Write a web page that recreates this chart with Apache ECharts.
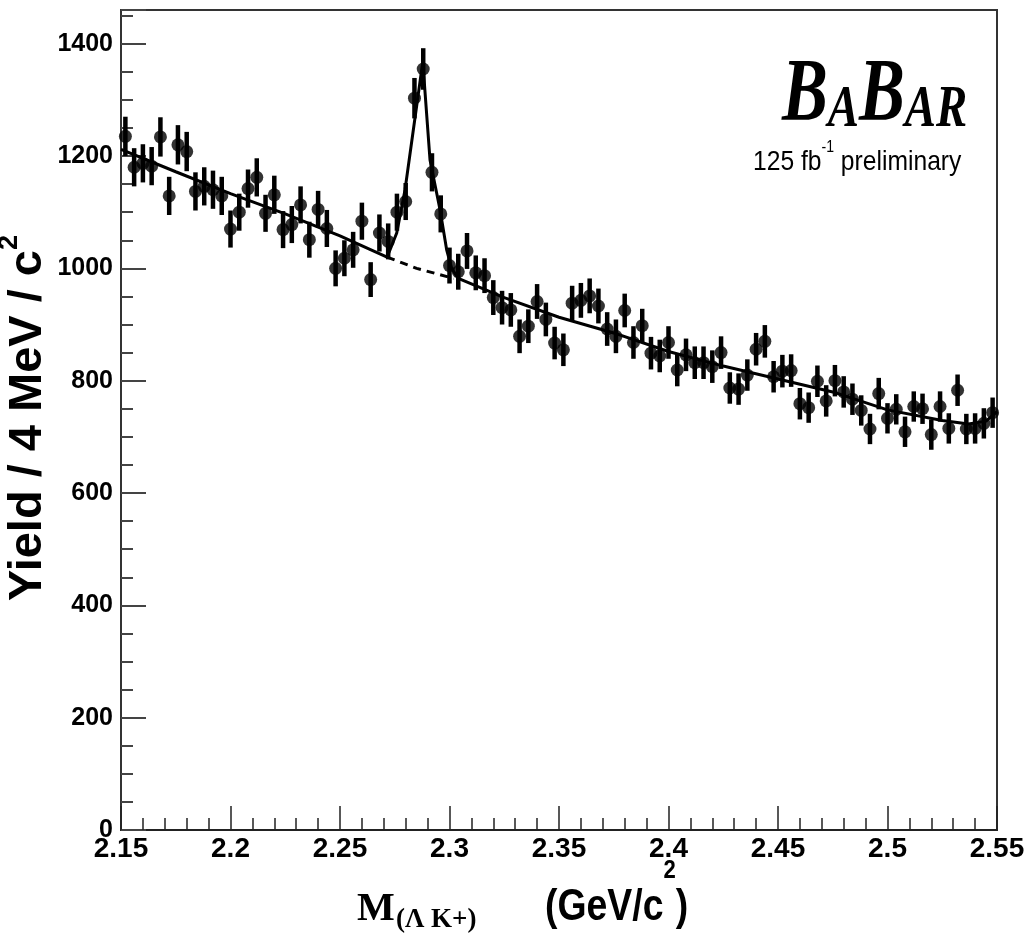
<!DOCTYPE html>
<html>
<head>
<meta charset="utf-8">
<script src="https://cdn.jsdelivr.net/npm/echarts@6/dist/echarts.min.js"></script>
<style>
html,body{margin:0;padding:0;background:#fff;}
#chart{width:1024px;height:935px;}
</style>
</head>
<body>
<div id="chart"></div>
<script>
// Bin centres (GeV/c^2), 4 MeV bins
const mass = [2.152,2.156,2.160,2.164,2.168,2.172,2.176,2.180,2.184,2.188,
2.192,2.196,2.200,2.204,2.208,2.212,2.216,2.220,2.224,2.228,
2.232,2.236,2.240,2.244,2.248,2.252,2.256,2.260,2.264,2.268,
2.272,2.276,2.280,2.284,2.288,2.292,2.296,2.300,2.304,2.308,
2.312,2.316,2.320,2.324,2.328,2.332,2.336,2.340,2.344,2.348,
2.352,2.356,2.360,2.364,2.368,2.372,2.376,2.380,2.384,2.388,
2.392,2.396,2.400,2.404,2.408,2.412,2.416,2.420,2.424,2.428,
2.432,2.436,2.440,2.444,2.448,2.452,2.456,2.460,2.464,2.468,
2.472,2.476,2.480,2.484,2.488,2.492,2.496,2.500,2.504,2.508,
2.512,2.516,2.520,2.524,2.528,2.532,2.536,2.540,2.544,2.548];
// Yield per bin
const yieldVals = [1235,1180,1187,1182,1234,1129,1220,1208,1137,1146,
1140,1129,1070,1100,1142,1162,1098,1131,1069,1078,
1113,1051,1105,1071,1000,1018,1033,1084,980,1063,
1048,1100,1119,1303,1355,1171,1097,1005,994,1031,
992,987,948,930,926,879,897,941,909,867,
855,938,943,951,933,892,879,925,868,898,
849,844,868,819,846,832,832,825,850,787,
785,810,856,870,807,817,818,759,752,799,
764,800,780,767,747,714,777,733,749,709,
754,750,704,754,715,783,714,715,724,743];
// Error bar half-lengths
const errVals = [35,34,34,34,35,34,35,35,34,34,
34,34,33,33,34,34,33,34,33,33,
33,32,33,33,32,32,32,33,31,33,
32,33,33,36,37,34,33,32,32,32,
31,31,31,30,30,30,30,31,30,29,
29,31,31,31,31,30,30,30,29,30,
29,29,29,29,29,29,29,29,29,28,
28,28,29,29,28,29,29,28,27,28,
28,28,28,28,27,27,28,27,27,27,
27,27,27,27,27,28,27,27,27,27];
// Fit (signal + background), solid
const fitMass  = [2.150,2.175,2.200,2.225,2.250,2.2715,2.2759,2.2797,2.2878,2.2911,2.2957,2.2987,2.301,2.304,2.325,2.350,2.375,2.400,2.425,2.450,2.475,2.500,2.525,2.537,2.545,2.550];
const fitYield = [1212,1172,1133,1097,1058,1020,1063,1140,1368,1193,1104,1033,1000,982,948,913,885,852,826,803,780,748,729,723,728,745];
// Background under the peak, dashed
const bkgMass  = [2.2715,2.285,2.302];
const bkgYield = [1020,1000,982];

const xTicks = ['2.15','2.2','2.25','2.3','2.35','2.4','2.45','2.5','2.55'];
const yTicks = ['0','200','400','600','800','1000','1200','1400'];

const SANS = '"Liberation Sans",Arial,Helvetica,sans-serif';
const SERIF = '"Liberation Serif","Times New Roman",serif';

const chart = echarts.init(document.getElementById('chart'), null, {renderer:'canvas'});

const points = mass.map((m,i)=>[m, yieldVals[i]]);
const bars = mass.map((m,i)=>[m, yieldVals[i], errVals[i]]);
const fitData = fitMass.map((m,i)=>[m, fitYield[i]]);
const bkgData = bkgMass.map((m,i)=>[m, bkgYield[i]]);

const option = {
  animation:false,
  backgroundColor:'#fff',
  grid:{left:121, right:27, top:10, bottom:105, outerBoundsMode:'none', containLabel:false,
        show:true, borderColor:'#333', borderWidth:2, backgroundColor:'transparent'},
  xAxis:{
    type:'value', min:2.15, max:2.55, interval:0.05,
    axisLine:{show:true, onZero:false, lineStyle:{color:'#222', width:2}},
    axisTick:{show:true, inside:true, length:24, lineStyle:{color:'#222', width:1.5}},
    minorTick:{show:true, splitNumber:5, length:12, lineStyle:{color:'#222', width:1.5}},
    splitLine:{show:false}, minorSplitLine:{show:false},
    axisLabel:{
      formatter:function(v){ const s=(+v).toFixed(2).replace(/0$/,''); return xTicks.indexOf(s)>=0?s:''; },
      fontSize:28, fontWeight:'bold', fontFamily:SANS, color:'#000', margin:5, hideOverlap:false
    }
  },
  yAxis:[{
    type:'value', min:0, max:1460, interval:200,
    axisLine:{show:true, lineStyle:{color:'#333', width:2}},
    axisTick:{show:true, inside:true, length:25, lineStyle:{color:'#444', width:2}},
    splitLine:{show:false},
    axisLabel:{
      formatter:function(v){ const s=String(Math.round(v)); return yTicks.indexOf(s)>=0?s:''; },
      fontSize:25, fontWeight:'bold', fontFamily:SANS, color:'#000', margin:8
    }
  },{
    type:'value', min:0, max:1460, interval:50, position:'left',
    axisLine:{show:false},
    axisTick:{show:true, inside:true, length:12, lineStyle:{color:'#444', width:2}},
    axisLabel:{show:false}, splitLine:{show:false}
  }],
  series:[
    {
      type:'custom', name:'err', xAxisIndex:0, yAxisIndex:0, data:bars, z:3,
      renderItem:function(params, api){
        const x = api.value(0), y = api.value(1), e = api.value(2);
        const p1 = api.coord([x, y-e]), p2 = api.coord([x, y+e]);
        return {type:'line', shape:{x1:p1[0], y1:p1[1], x2:p2[0], y2:p2[1]}, style:{stroke:'#000', lineWidth:4.5}};
      }
    },
    {type:'scatter', data:points, symbol:'circle', symbolSize:13, itemStyle:{color:'#000'}, z:4},
    {type:'line', data:fitData, showSymbol:false, symbol:'none', lineStyle:{color:'#000', width:3}, z:5},
    {type:'line', data:bkgData, showSymbol:false, symbol:'none', lineStyle:{color:'#000', width:3, type:[8,6]}, z:5}
  ],
  graphic:[
    {type:'text', left:782, top:52, scaleX:0.78, style:{
      text:'{b|B}{s|A}{b|B}{s|AR}',
      rich:{ b:{fontSize:88, fontWeight:'bold', fontStyle:'italic', fontFamily:SERIF, fill:'#000', verticalAlign:'bottom', lineHeight:80},
             s:{fontSize:60, fontWeight:'bold', fontStyle:'italic', fontFamily:SERIF, fill:'#000', verticalAlign:'bottom', lineHeight:80} }
    }},
    {type:'text', left:753, top:140, scaleX:0.88, style:{
      text:'{n|125 fb}{p|-1}{n| preliminary}',
      rich:{ n:{fontSize:28, fontFamily:SANS, fill:'#000', verticalAlign:'bottom', lineHeight:36},
             p:{fontSize:16, fontFamily:SANS, fill:'#000', verticalAlign:'top', lineHeight:36} }
    }},
    {type:'text', x:24, y:418, rotation:Math.PI/2, style:{
      text:'{n|Yield / 4 MeV / c}{p|2}', align:'center', verticalAlign:'middle',
      rich:{ n:{fontSize:47, fontWeight:'bold', fontFamily:SANS, fill:'#000', verticalAlign:'bottom', lineHeight:56},
             p:{fontSize:27, fontWeight:'bold', fontFamily:SANS, fill:'#000', verticalAlign:'top', lineHeight:56} }
    }},
    {type:'text', left:357, top:890, style:{text:'M', font:'bold 40px '+SERIF, fill:'#000'}},
    {type:'text', left:396, top:907, style:{text:'(Λ K+)', font:'bold 27px '+SERIF, fill:'#000'}},
    {type:'text', left:545, top:858, scaleX:0.85, style:{
      text:'{n|(GeV/c}{p|2}{n|)}',
      rich:{ n:{fontSize:44, fontWeight:'bold', fontFamily:SANS, fill:'#000', verticalAlign:'bottom', lineHeight:72},
             p:{fontSize:26, fontWeight:'bold', fontFamily:SANS, fill:'#000', verticalAlign:'top', lineHeight:72} }
    }}
  ]
};
chart.setOption(option);
</script>
</body>
</html>
